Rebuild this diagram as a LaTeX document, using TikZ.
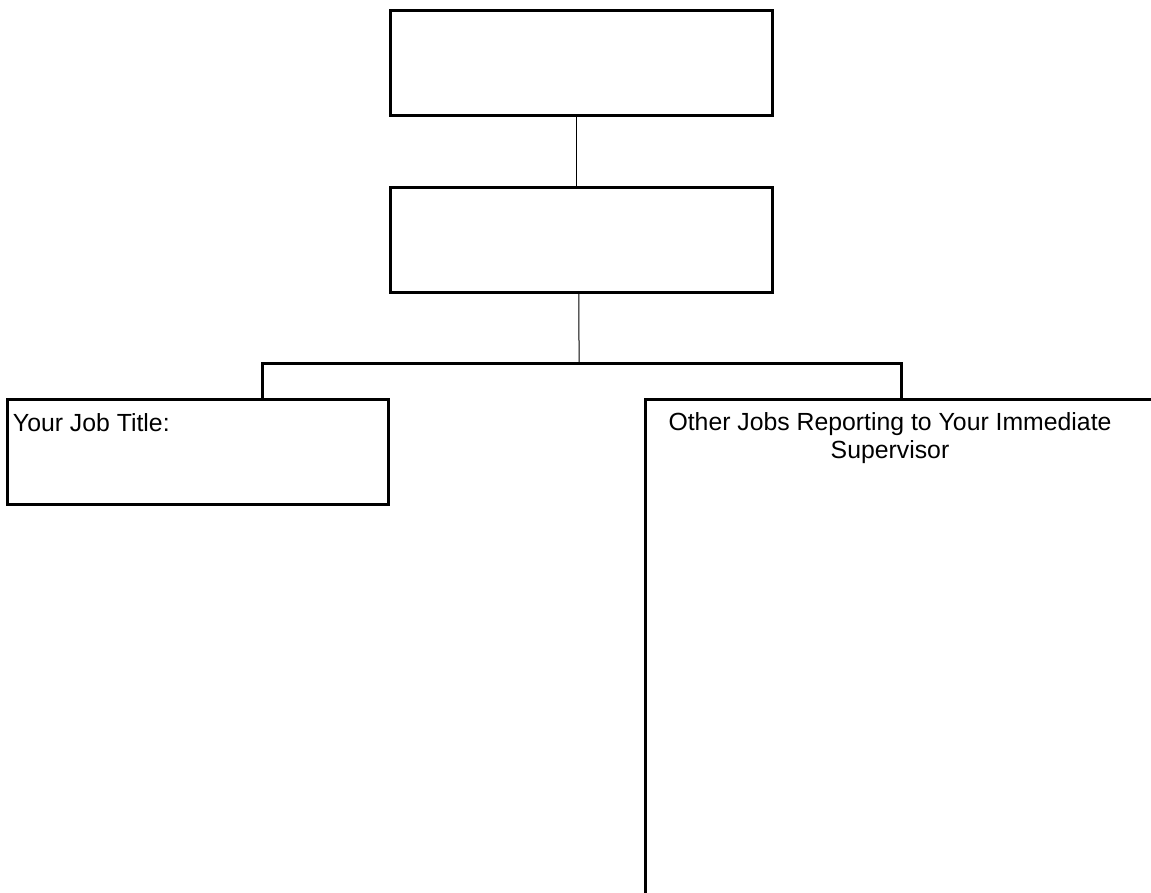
\documentclass[tikz,border=0pt]{standalone}
\usepackage{fontspec}
\setmainfont{Liberation Sans}
\usetikzlibrary{positioning}

\begin{document}
\begin{tikzpicture}[
      x=0.75pt, y=-0.75pt,
      chartbox/.style={rectangle, draw, line width=2.25pt, inner sep=0pt, outer sep=0pt,
        minimum width=286pt, minimum height=78.75pt},
      thinlink/.style={line width=0.75pt},
      thicklink/.style={line width=2.25pt},
      boxtext/.style={inner sep=0pt, font=\fontsize{18.6}{21}\selectfont}
    ]
    \useasboundingbox (0,0) rectangle (1151,892);
    \clip (0,0) rectangle (1151,892);
    % boxes
    \node[chartbox] (head) at (581.5,62.75) {};
    \node[chartbox, below=54pt of head] (super) {};
    \node[chartbox, anchor=north west] (you) at (7.2,399.5) {};
    \node[chartbox, anchor=north west, minimum width=416pt, minimum height=412pt] (others) at (645.4,399.5) {};
    % texts
    \node[boxtext, anchor=base west] (youText) at ([shift={(5.5,31.5)}]you.north west) {Your Job Title:};
    \node[boxtext, anchor=north, align=center] (othersText) at ([shift={(244.6,12.5)}]others.north west)
      {Other Jobs Reporting to Your Immediate\\Supervisor};
    % links
    \coordinate (busL) at (262.3,363.3);
    \coordinate (busM) at (579,363.3);
    \coordinate (busR) at (901,363.3);
    \draw[thinlink] ([xshift=-3.6pt]head.south) -- ([xshift=-3.6pt]super.north);
    \draw[thinlink] ([xshift=-1.9pt]super.south) -- (busM);
    \draw[thicklink] (you.north -| busL) -- (busL) -- (busR) -- (others.north -| busR);
\end{tikzpicture}
\end{document}
